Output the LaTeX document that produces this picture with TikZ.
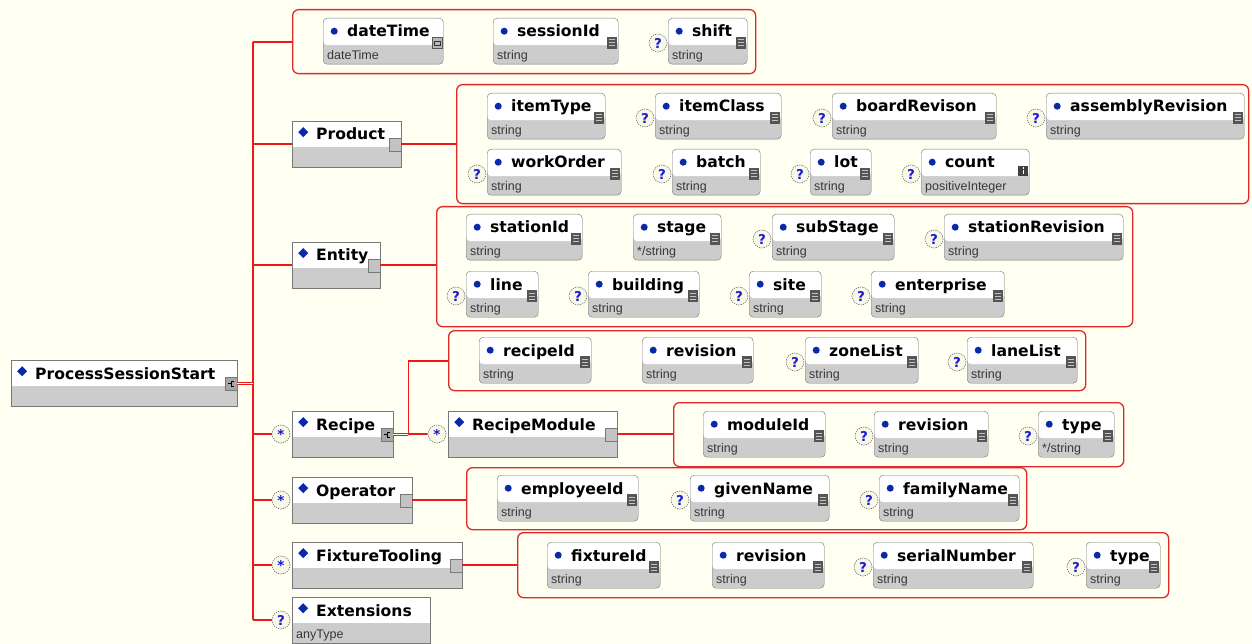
\documentclass[tikz,border=0pt]{standalone}
\usepackage{fontspec}
\newfontfamily\namefont{DejaVu Sans}
\newfontfamily\typefont{Liberation Sans}
\definecolor{bgcream}{RGB}{255,255,242}
\definecolor{boxline}{RGB}{120,120,120}
\definecolor{boxgrey}{RGB}{204,204,204}
\definecolor{dotblue}{RGB}{10,40,170}
\definecolor{grpred}{RGB}{225,40,40}
\definecolor{linered}{RGB}{235,25,25}
\definecolor{icondark}{RGB}{85,85,85}
\definecolor{iconlight}{RGB}{195,195,195}
\definecolor{typegrey}{RGB}{55,55,55}
\definecolor{qblue}{RGB}{25,25,210}
\definecolor{circfill}{RGB}{248,248,232}
\newcommand{\attrel}[6]{\node[attr, minimum width=#4pt, label={[nm]north west:#5}, label={[tp]south west:#6}] (#1) at (#2,#3) {};}
\newcommand{\strmark}[1]{\fill[icondark] ([xshift=-1pt,yshift=-19pt]#1.north east) rectangle ++(-10pt,-12pt);
  \foreach \k in {22pt,25pt,28pt} \draw[iconlight, line width=1pt] ([xshift=-3pt,yshift=-\k]#1.north east) -- ++(-6pt,0pt);}
\newcommand{\boxmark}[1]{\filldraw[fill=iconlight, draw=boxline, line width=0.6pt] ([yshift=-17pt]#1.north east) rectangle ++(-12pt,-13pt);}
\newcommand{\choicemark}[1]{\filldraw[fill=gray!70, draw=boxline, line width=0.6pt] ([yshift=-17pt]#1.north east) rectangle ++(-12pt,-13pt);
  \draw[black, line width=0.6pt] ([xshift=-3pt,yshift=-21pt]#1.north east) -- ++(-3pt,0pt) -- ++(0pt,-5pt) -- ++(3pt,0pt) ([xshift=-6pt,yshift=-23.5pt]#1.north east) -- ++(-3pt,0pt);}

\begin{document}
\begin{tikzpicture}[x=1pt,y=-1pt]
\tikzstyle{attr}=[draw=boxline, fill=boxgrey, rounded corners=4pt, inner sep=0pt, minimum height=46pt, anchor=north west, path picture={\fill[white] (path picture bounding box.north west) rectangle ([yshift=-27pt]path picture bounding box.north east); \fill[dotblue] ([xshift=11pt,yshift=-13pt]path picture bounding box.north west) circle (3.5pt);}]
\tikzstyle{cplx}=[draw=boxline, fill=boxgrey, inner sep=0pt, minimum height=46pt, anchor=north west, path picture={\fill[white] (path picture bounding box.north west) rectangle ([yshift=-26pt]path picture bounding box.north east); \fill[dotblue] ([xshift=11pt,yshift=-6pt]path picture bounding box.north west) -- ++(5pt,-5pt) -- ++(-5pt,-5pt) -- ++(-5pt,5pt) -- cycle;}]
\tikzstyle{nm}=[font=\namefont\bfseries\fontsize{15.6}{16}\selectfont, anchor=base west, inner sep=0pt, xshift=24pt, yshift=-19pt]
\tikzstyle{tp}=[font=\typefont\fontsize{12.5}{13}\selectfont, text=typegrey, anchor=base west, inner sep=0pt, xshift=4pt, yshift=5pt]
\tikzstyle{grp}=[draw=grpred, line width=1.3pt, rounded corners=6pt, inner sep=0pt, anchor=north west]
\tikzstyle{optmark}=[circle, draw=boxline, line width=0.6pt, dash pattern=on 1.3pt off 1pt, fill=circfill, minimum size=18pt, inner sep=0pt, text=qblue, font=\namefont\bfseries\fontsize{13.5}{14}\selectfont]
\tikzstyle{conn}=[draw=linered, line width=1.8pt]
\tikzstyle{dbl}=[line width=1pt, double=bgcream, double distance=1.2pt]

\fill[bgcream] (0,0) rectangle (1252,644);

\node[grp, minimum width=463pt, minimum height=64pt] (g1) at (292,9) {};
\node[grp, minimum width=792pt, minimum height=119pt] (prodgrp) at (456,84) {};
\node[grp, minimum width=696pt, minimum height=120pt] (entgrp) at (436,206) {};
\node[grp, minimum width=637pt, minimum height=60pt] (recgrp) at (448,330) {};
\node[grp, minimum width=450pt, minimum height=64pt] (modgrp) at (673,402) {};
\node[grp, minimum width=560pt, minimum height=62pt] (opgrp) at (466,467) {};
\node[grp, minimum width=651pt, minimum height=65pt] (fixgrp) at (517,532) {};

\node[cplx, minimum width=226pt, label={[nm]north west:ProcessSessionStart}] (pss) at (11,360) {};
\node[cplx, minimum width=109pt, label={[nm]north west:Product}] (product) at (292,121) {};
\node[cplx, minimum width=88pt, label={[nm]north west:Entity}] (entity) at (292,242) {};
\node[cplx, minimum width=101pt, label={[nm]north west:Recipe}] (recipe) at (292,411) {};
\node[cplx, minimum width=169pt, label={[nm]north west:RecipeModule}] (recmod) at (448,411) {};
\node[cplx, minimum width=120pt, label={[nm]north west:Operator}] (operator) at (292,477) {};
\node[cplx, minimum width=170pt, label={[nm]north west:FixtureTooling}] (fixture) at (292,542) {};
\node[cplx, minimum width=138pt, label={[nm]north west:Extensions}, label={[tp]south west:anyType}] (ext) at (292,597) {};
\choicemark{pss}
\choicemark{recipe}
\foreach \el in {product,entity,recmod,operator,fixture} {\boxmark{\el}}

\node[optmark] (recipe-s) at (281,434) {\raisebox{-2.5pt}{*}};
\node[optmark] (recmod-s) at (437,434) {\raisebox{-2.5pt}{*}};
\node[optmark] (operator-s) at (281,500) {\raisebox{-2.5pt}{*}};
\node[optmark] (fixture-s) at (281,565) {\raisebox{-2.5pt}{*}};
\node[optmark] (ext-q) at (281,620) {?};

\attrel{dtime}{323}{18}{120}{dateTime}{dateTime}
\attrel{sessid}{493}{18}{125}{sessionId}{string}
\attrel{shift}{668}{18}{79}{shift}{string}
\attrel{itemtype}{487}{93}{118}{itemType}{string}
\attrel{itemclass}{655}{93}{126}{itemClass}{string}
\attrel{boardrev}{832}{93}{164}{boardRevison}{string}
\attrel{asmrev}{1046}{93}{198}{assemblyRevision}{string}
\attrel{workorder}{487}{149}{134}{workOrder}{string}
\attrel{batch}{672}{149}{88}{batch}{string}
\attrel{lot}{810}{149}{61}{lot}{string}
\attrel{count}{921}{149}{108}{count}{positiveInteger}
\attrel{stationid}{466}{214}{116}{stationId}{string}
\attrel{stage}{633}{214}{88}{stage}{*/string}
\attrel{substage}{772}{214}{122}{subStage}{string}
\attrel{stationrev}{944}{214}{179}{stationRevision}{string}
\attrel{line}{466}{271}{72}{line}{string}
\attrel{building}{588}{271}{111}{building}{string}
\attrel{site}{749}{271}{72}{site}{string}
\attrel{enterprise}{871}{271}{133}{enterprise}{string}
\attrel{recipeid}{479}{337}{112}{recipeId}{string}
\attrel{recrev}{642}{337}{111}{revision}{string}
\attrel{zonelist}{805}{337}{113}{zoneList}{string}
\attrel{lanelist}{967}{337}{110}{laneList}{string}
\attrel{moduleid}{703}{411}{122}{moduleId}{string}
\attrel{modrev}{874}{411}{114}{revision}{string}
\attrel{modtype}{1038}{411}{76}{type}{*/string}
\attrel{employeeid}{497}{475}{141}{employeeId}{string}
\attrel{givenname}{690}{475}{139}{givenName}{string}
\attrel{familyname}{879}{475}{140}{familyName}{string}
\attrel{fixtureid}{547}{542}{113}{fixtureId}{string}
\attrel{fixrev}{712}{542}{112}{revision}{string}
\attrel{serialno}{873}{542}{160}{serialNumber}{string}
\attrel{fixtype}{1086}{542}{74}{type}{string}

\foreach \el in {sessid,shift,itemtype,itemclass,boardrev,asmrev,workorder,batch,lot,stationid,stage,substage,stationrev,line,building,site,enterprise,recipeid,recrev,zonelist,lanelist,moduleid,modrev,modtype,employeeid,givenname,familyname,fixtureid,fixrev,serialno,fixtype} {\strmark{\el}}
\filldraw[fill=gray!55, draw=gray!70!black, line width=0.5pt] ([xshift=-1pt,yshift=-19pt]dtime.north east) rectangle ++(-10pt,-11pt);
\draw[gray!40!black, line width=0.5pt] ([xshift=-3pt,yshift=-23pt]dtime.north east) rectangle ++(-6pt,-4pt);
\fill[black!75] ([xshift=-1pt,yshift=-17pt]count.north east) rectangle ++(-10pt,-10pt);
\fill[white] ([xshift=-5.3pt,yshift=-18.5pt]count.north east) rectangle ++(-1.5pt,-1.5pt);
\fill[white] ([xshift=-5.3pt,yshift=-21pt]count.north east) rectangle ++(-1.5pt,-4.5pt);

\foreach \el/\x/\y in {shift/658/43, itemclass/645/118, boardrev/822/118, asmrev/1036/118, workorder/477/174, batch/662/174, lot/800/174, count/911/174, substage/762/239, stationrev/934/239, line/456/296, building/578/296, site/739/296, enterprise/861/296, zonelist/795/362, lanelist/957/362, modrev/864/436, modtype/1028/436, givenname/680/500, familyname/869/500, serialno/863/567, fixtype/1076/567}
  \node[optmark] (\el-q) at (\x,\y) {?};

\coordinate (bus) at (253,0);
\draw[conn] (g1.west -| bus) -- (ext-q.west -| bus);
\foreach \n in {g1,product,entity,recipe-s,operator-s,fixture-s,ext-q}
  \draw[conn] (\n.west -| bus) -- (\n.west);
\draw[conn,dbl] (pss.east) -- (pss.east -| bus);
\draw[conn] (product.east) -- (product.east -| prodgrp.west);
\draw[conn] (entity.east) -- (entity.east -| entgrp.west);
\draw[conn] (recmod.east) -- (recmod.east -| modgrp.west);
\draw[conn] (operator.east) -- (operator.east -| opgrp.west);
\draw[conn] (fixture.east) -- (fixture.east -| fixgrp.west);
\draw[conn] (recipe.east) -- (recmod-s.west);
\draw[conn] (recipe.east) -- ++(15pt,0pt) |- (recgrp.west);
\draw[conn,dbl] (recipe.east) -- ++(15pt,0pt);
\end{tikzpicture}
\end{document}
